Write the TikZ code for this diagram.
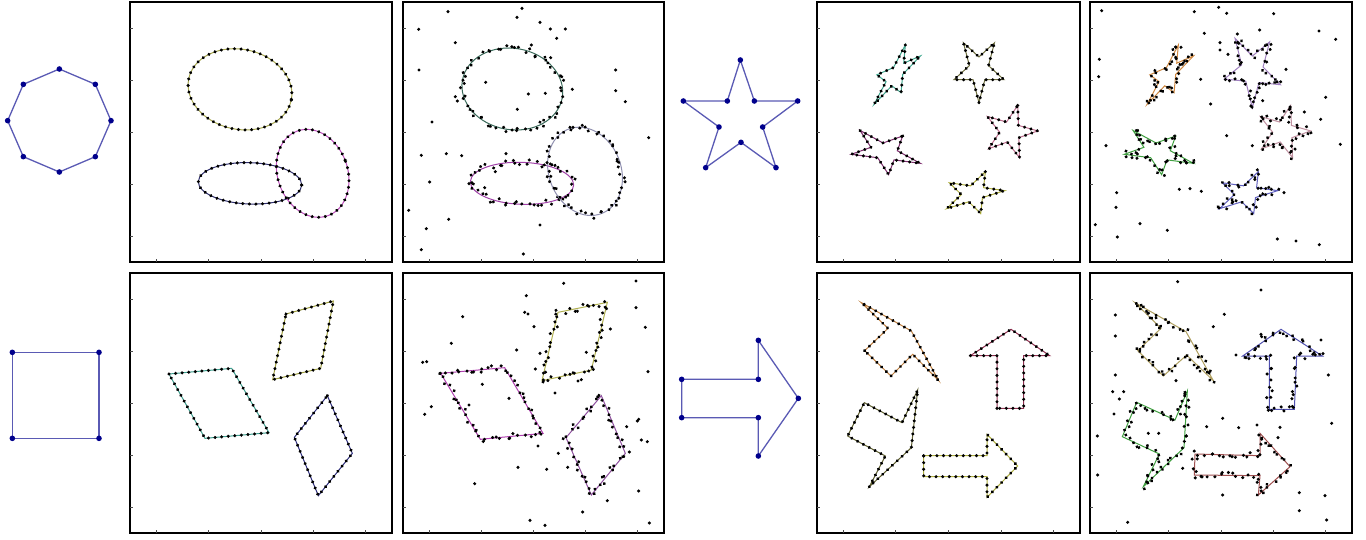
\documentclass[tikz,border=0pt]{standalone}
\usetikzlibrary{decorations.markings}
\definecolor{tmpline}{HTML}{5A5AB4}
\definecolor{tmpdot}{HTML}{00008C}
\definecolor{cA1}{HTML}{A8A850}
\definecolor{cA2}{HTML}{303070}
\definecolor{cA3}{HTML}{C050C0}
\definecolor{cB1}{HTML}{3A6A5A}
\definecolor{cB2}{HTML}{A040A8}
\definecolor{cB3}{HTML}{9090B0}
\definecolor{cC1}{HTML}{40A890}
\definecolor{cC2}{HTML}{707040}
\definecolor{cC3}{HTML}{C07090}
\definecolor{cC4}{HTML}{803070}
\definecolor{cC5}{HTML}{B0B040}
\definecolor{cD1}{HTML}{D08840}
\definecolor{cD2}{HTML}{A080C0}
\definecolor{cD3}{HTML}{C090A0}
\definecolor{cD4}{HTML}{40A040}
\definecolor{cD5}{HTML}{6060C0}
\definecolor{cE1}{HTML}{40A090}
\definecolor{cE2}{HTML}{A0A040}
\definecolor{cE3}{HTML}{303080}
\definecolor{cF1}{HTML}{B040B0}
\definecolor{cF2}{HTML}{B0B050}
\definecolor{cF3}{HTML}{9050A0}
\definecolor{cG1}{HTML}{C08040}
\definecolor{cG2}{HTML}{903050}
\definecolor{cG3}{HTML}{606030}
\definecolor{cG4}{HTML}{B0B040}
\definecolor{cH1}{HTML}{B0A060}
\definecolor{cH2}{HTML}{5050B0}
\definecolor{cH3}{HTML}{40A040}
\definecolor{cH4}{HTML}{A05050}
\tikzset{
 zs/.style={shift={#1},x=0.166667pt,y=-0.166667pt},
 frame/.style={draw=black,line width=1pt},
 axtick/.style={draw=black!70,line width=0.45pt},
 clean/.style={draw=#1,line width=0.5pt,postaction={decorate,decoration={markings,mark=between positions 0 and 1 step 3.3pt with {\fill[black] (0,0) circle (0.85pt);}}}},
 noisy/.style={draw=#1,line width=0.5pt,postaction={decorate,decoration={markings,mark=between positions 0 and 1 step 2.4pt with {\fill[black] (rand*1.5pt,rand*1.5pt) circle (0.85pt);}}}},
 tline/.style={draw=tmpline,line width=0.65pt},
 tdot/.style={fill=tmpdot},
 outl/.style={fill=black},
}
\newcommand\starpts{-54/0.382,-18/1,18/0.382,54/1,90/0.382,126/1,162/0.382,198/1,234/0.382}
\newcommand\affstar[7]{%
 \path[#7] ({#1-(#4)},{#2-(#6)}) \foreach \a/\r in \starpts {-- ({#1+\r*((#3)*cos(\a)+(#4)*sin(\a))},{#2+\r*((#5)*cos(\a)+(#6)*sin(\a))})} -- cycle;}
\newcommand\affell[6]{%
 \path[#6,rotate around={-(#5):(#1,#2)}] (#1,#2) ellipse [x radius=#3, y radius=#4];}
\newcommand\panelbox[4]{%
 \draw[frame] (#1,#2) rectangle (#3,#4);
 \foreach \i in {0,...,4}{
   \draw[axtick] ({#1+(0.1+0.2*\i)*(#3-#1)},#4) -- ++(0,-3);
   \draw[axtick] (#1,{#4-(0.1+0.2*\i)*(#4-#2)}) -- ++(3,0);
 }}
\begin{document}
\begin{tikzpicture}[x=0.5pt,y=-0.5pt]
\pgfmathsetseed{12345}
\useasboundingbox (0,0) rectangle (1366,540);
\fill[white] (0,0) rectangle (1366,540);

% ---------- templates ----------
\begin{scope}[zs={(0,50)}]
 \foreach \n/\x/\y in {1/178/57,2/286/103,3/333/212,4/286/320,5/178/366,6/70/320,7/23/212,8/70/103}
   \coordinate (oct\n) at (\x,\y);
 \draw[tline] (oct1)--(oct2)--(oct3)--(oct4)--(oct5)--(oct6)--(oct7)--(oct8)--cycle;
 \foreach \n in {1,...,8} \fill[tdot] (oct\n) circle (1.4pt);
\end{scope}
\begin{scope}[zs={(670,50)}]
 \foreach \n/\x/\y in {1/211/30,2/253/153,3/383/153,4/278/231,5/318/353,6/213/277,7/107/353,8/147/231,9/40/153,10/172/153}
   \coordinate (st\n) at (\x,\y);
 \draw[tline] (st1)--(st2)--(st3)--(st4)--(st5)--(st6)--(st7)--(st8)--(st9)--(st10)--cycle;
 \foreach \n in {1,...,10} \fill[tdot] (st\n) circle (1.4pt);
\end{scope}
\begin{scope}[zs={(0,330)}]
 \foreach \n/\x/\y in {1/37/67,2/297/67,3/297/325,4/37/325}
   \coordinate (sq\n) at (\x,\y);
 \draw[tline] (sq1)--(sq2)--(sq3)--(sq4)--cycle;
 \foreach \n in {1,...,4} \fill[tdot] (sq\n) circle (1.4pt);
\end{scope}
\begin{scope}[zs={(670,325)}]
 \foreach \n/\x/\y in {1/35/163,2/265/163,3/265/46,4/385/220,5/265/393,6/265/278,7/35/278}
   \coordinate (ar\n) at (\x,\y);
 \draw[tline] (ar1)--(ar2)--(ar3)--(ar4)--(ar5)--(ar6)--(ar7)--cycle;
 \foreach \n in {1,...,7} \fill[tdot] (ar\n) circle (1.4pt);
\end{scope}

% ---------- frames ----------
\panelbox{130}{2}{392}{262}
\panelbox{403}{2}{664}{262}
\panelbox{817}{2}{1080}{262}
\panelbox{1090}{2}{1352}{262}
\panelbox{130}{273}{392}{533}
\panelbox{403}{273}{664}{533}
\panelbox{817}{273}{1080}{533}
\panelbox{1090}{273}{1352}{533}

% ---------- panel A : ellipses ----------
\begin{scope}[zs={(125,0)}]
 \affell{345}{268}{157}{120}{12}{clean=cA1}
 \affell{375}{550}{155}{62}{2}{clean=cA2}
 \affell{563}{520}{105}{135}{-20}{clean=cA3}
\end{scope}
% ---------- panel B : noisy ellipses ----------
\begin{scope}[zs={(398,0)}]
 \affell{343}{267}{152}{122}{10}{noisy=cB1}
 \affell{372}{550}{155}{63}{2}{noisy=cB2}
 \affell{561}{514}{108}{136}{-22}{noisy=cB3}
 \foreach \x/\y in {150/35,372/25,357/52,426/67,457/87,502/87,62/88,476/115,172/128,400/135,458/173,63/210,653/210,263/247,391/282,442/280,523/268,653/272,682/305,172/290,178/303,358/328,102/366,525/382,752/413,70/466,145/461,191/467,324/461,95/546,260/563,32/631,152/658,85/686,426/675,70/749,376/762,292/515,213/551}
   \fill[outl] (\x,\y) circle (0.85pt);
\end{scope}
% ---------- panel C : stars ----------
\begin{scope}[zs={(812,0)}]
 \affstar{250.6}{223.6}{68.7}{-29.4}{-29.7}{88.6}{clean=cC1}
 \affstar{500.8}{208.6}{-79}{0}{0}{-99}{clean=cC2}
 \affstar{594.4}{395.6}{79.3}{-22.7}{22.7}{79.3}{clean=cC3}
 \affstar{217.8}{455.2}{95.2}{-54.2}{51.9}{47.2}{clean=cC4}
 \affstar{484}{580.4}{87.2}{-36}{12.4}{65.4}{clean=cC5}
\end{scope}
% ---------- panel D : noisy stars ----------
\begin{scope}[zs={(1080,0)}]
 \affstar{265.6}{223.6}{68.7}{-29.4}{-29.7}{88.6}{noisy=cD1}
 \affstar{517}{211}{-88.3}{0}{-9}{-112}{noisy=cD2}
 \affstar{609.4}{395.6}{79.3}{-22.7}{22.7}{79.3}{noisy=cD3}
 \affstar{232.8}{455.2}{95.2}{-54.2}{51.9}{47.2}{noisy=cD4}
 \affstar{499}{580.4}{87.2}{-36}{12.4}{65.4}{noisy=cD5}
 \foreach \x/\y in {65/32,343/35,416/22,440/40,581/41,539/90,717/93,767/118,373/100,472/102,420/128,420/150,444/163,58/178,56/230,362/238,392/312,618/208,737/292,722/358,673/336,440/407,517/437,781/433,78/437,298/568,330/566,364/574,612/578,110/578,108/622,46/674,180/671,262/691,112/711,592/717,648/723,718/734,548/302}
   \fill[outl] (\x,\y) circle (0.85pt);
\end{scope}
% ---------- panel A2 : parallelograms ----------
\begin{scope}[zs={(125,265)}]
 \path[clean=cE1] (132,327) -- (320,310) -- (432,503) -- (240,520) -- cycle;
 \path[clean=cE2] (483,147) -- (625,108) -- (587,310) -- (443,344) -- cycle;
 \path[clean=cE3] (607,392) -- (682,565) -- (580,692) -- (508,517) -- cycle;
\end{scope}
% ---------- panel B2 : noisy parallelograms ----------
\begin{scope}[zs={(398,265)}]
 \path[noisy=cF1] (128,325) -- (320,308) -- (435,505) -- (247,523) -- cycle;
 \path[noisy=cF2] (480,142) -- (628,112) -- (580,315) -- (432,347) -- cycle;
 \path[noisy=cF3] (610,392) -- (682,565) -- (580,690) -- (504,518) -- cycle;
 \foreach \x/\y in {497/55,714/48,714/128,742/187,750/320,385/92,380/142,390/147,194/155,408/185,160/235,356/255,426/265,74/292,86/290,412/312,637/192,565/262,540/348,550/344,471/384,253/358,333/400,213/420,100/425,80/448,686/485,718/468,722/463,730/525,748/530,694/561,481/565,420/543,360/607,446/613,509/607,230/656,722/678,628/707,554/741,396/766,441/781,754/774}
   \fill[outl] (\x,\y) circle (0.85pt);
\end{scope}
% ---------- panel C2 : arrows ----------
\begin{scope}[zs={(812,265)}]
 \path[clean=cG1] (158,257) -- (228,190) -- (148,113) -- (298,198) -- (380,347) -- (302,268) -- (237,333) -- cycle;
 \path[clean=cG2] (555,430) -- (555,272) -- (475,272) -- (597,193) -- (713,272) -- (635,272) -- (635,430) -- cycle;
 \path[clean=cG3] (172,665) -- (220,573) -- (107,513) -- (157,413) -- (270,473) -- (317,375) -- (298,548) -- cycle;
 \path[clean=cG4] (335,572) -- (525,572) -- (525,508) -- (617,603) -- (525,697) -- (525,635) -- (335,635) -- cycle;
\end{scope}
% ---------- panel D2 : noisy arrows ----------
\begin{scope}[zs={(1080,265)}]
 \path[noisy=cH1] (173,257) -- (243,190) -- (165,113) -- (318,200) -- (400,347) -- (320,270) -- (250,333) -- cycle;
 \path[noisy=cH2] (568,433) -- (568,273) -- (488,273) -- (603,193) -- (727,273) -- (650,273) -- (643,433) -- cycle;
 \path[noisy=cH3] (190,665) -- (238,567) -- (127,515) -- (170,412) -- (285,465) -- (322,378) -- (312,548) -- cycle;
 \path[noisy=cH4] (345,567) -- (540,572) -- (540,505) -- (630,605) -- (535,690) -- (540,632) -- (343,630) -- cycle;
 \foreach \x/\y in {293/50,543/75,106/150,106/213,433/148,400/185,106/330,288/347,98/380,131/380,118/402,102/447,468/270,543/208,545/215,723/225,745/330,428/460,380/485,476/488,531/480,600/487,594/518,755/475,52/513,205/505,236/505,53/630,308/610,428/690,658/683,735/692,658/737,740/765,143/772}
   \fill[outl] (\x,\y) circle (0.85pt);
\end{scope}
\end{tikzpicture}
\end{document}
